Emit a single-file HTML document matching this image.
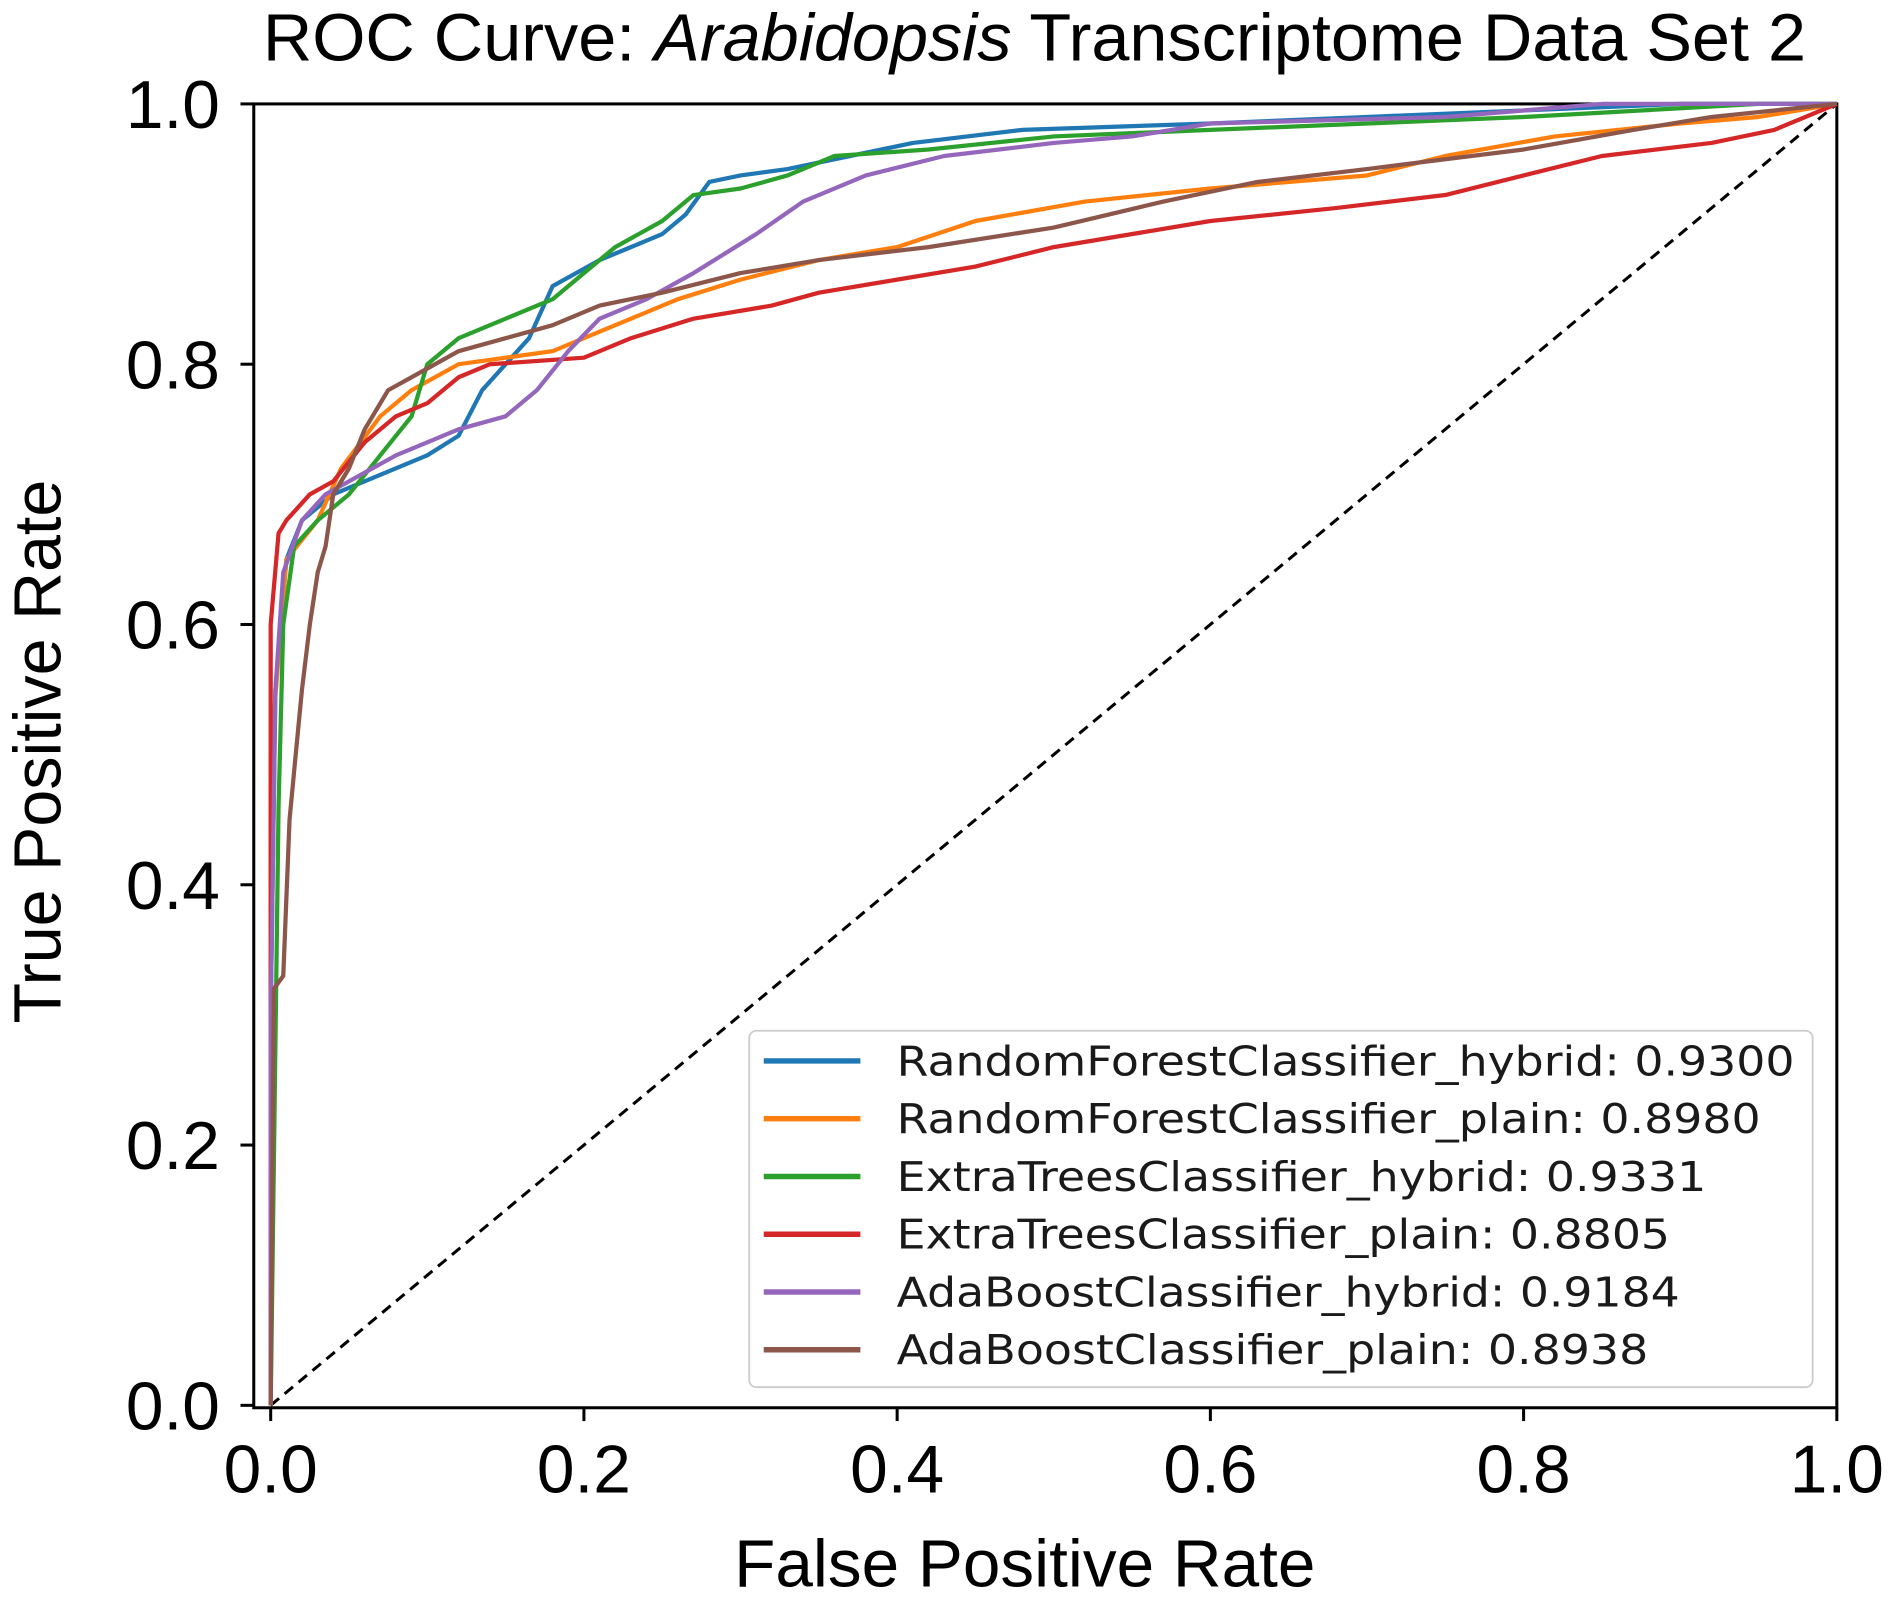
<!DOCTYPE html>
<html><head><meta charset="utf-8"><style>
html,body{margin:0;padding:0;background:#fff;}
svg{display:block;}
text{font-family:"Liberation Sans",Arial,sans-serif;fill:#000;}
.lg{font-family:"DejaVu Sans",sans-serif;font-size:34px;fill:#1a1a1a;}
</style></head><body>
<svg id="chart" width="1890" height="1604" viewBox="0 0 1564 1327.4" preserveAspectRatio="none" xmlns="http://www.w3.org/2000/svg">
<text x="856" y="50" font-size="55" text-anchor="middle" textLength="1277" lengthAdjust="spacingAndGlyphs">ROC Curve: <tspan font-style="italic">Arabidopsis</tspan> Transcriptome Data Set 2</text>
<rect x="210" y="86" width="1310" height="1079" fill="#fff" stroke="#000" stroke-width="2.5"/>
<g id="ticks"></g>
<line id="diag" stroke="#000" stroke-width="2.5" stroke-dasharray="9,6"/>
<g id="curves"></g>
<text x="848" y="1313" font-size="55" text-anchor="middle" textLength="481" lengthAdjust="spacingAndGlyphs">False Positive Rate</text>
<text transform="translate(50,622) rotate(-90)" font-size="55" text-anchor="middle" textLength="450" lengthAdjust="spacingAndGlyphs">True Positive Rate</text>
<g id="legend">
<rect x="620" y="853" width="880" height="295" rx="6" fill="#fff" fill-opacity="0.85" stroke="#ccc" stroke-width="1.5"/>
</g>
</svg>
<script>
const seriesNames=["RandomForestClassifier_hybrid","RandomForestClassifier_plain","ExtraTreesClassifier_hybrid","ExtraTreesClassifier_plain","AdaBoostClassifier_hybrid","AdaBoostClassifier_plain"];
const aucValues=["0.9300","0.8980","0.9331","0.8805","0.9184","0.8938"];
const colors=["#1f77b4","#ff7f0e","#2ca02c","#d62728","#9467bd","#8c564b"];
const xTicks=[0,0.2,0.4,0.6,0.8,1.0];
const yTicks=[0,0.2,0.4,0.6,0.8,1.0];
const rfHybridFpr=[0,0,0.003,0.01,0.02,0.04,0.07,0.1,0.12,0.135,0.15,0.165,0.18,0.21,0.23,0.25,0.265,0.28,0.30,0.33,0.37,0.41,0.48,0.6,0.7,0.8,0.9,1];
const rfHybridTpr=[0,0.3,0.55,0.65,0.68,0.70,0.715,0.73,0.745,0.78,0.80,0.82,0.86,0.88,0.89,0.90,0.915,0.94,0.945,0.95,0.96,0.97,0.98,0.985,0.99,0.995,1,1];
const rfPlainFpr=[0,0,0.01,0.03,0.045,0.07,0.09,0.12,0.18,0.22,0.26,0.3,0.35,0.4,0.45,0.52,0.6,0.7,0.75,0.82,0.9,0.95,1];
const rfPlainTpr=[0,0.5,0.65,0.68,0.72,0.76,0.78,0.80,0.81,0.83,0.85,0.865,0.88,0.89,0.91,0.925,0.935,0.945,0.96,0.975,0.985,0.99,1];
const etHybridFpr=[0,0.005,0.008,0.015,0.03,0.05,0.07,0.09,0.1,0.12,0.15,0.18,0.2,0.22,0.25,0.27,0.30,0.33,0.36,0.42,0.5,0.6,0.7,0.8,0.95,1];
const etHybridTpr=[0,0.46,0.6,0.66,0.68,0.70,0.73,0.76,0.80,0.82,0.835,0.85,0.87,0.89,0.91,0.93,0.935,0.945,0.96,0.965,0.975,0.98,0.985,0.99,1,1];
const etPlainFpr=[0,0,0.005,0.01,0.025,0.04,0.06,0.08,0.1,0.12,0.14,0.2,0.23,0.27,0.32,0.35,0.4,0.45,0.5,0.6,0.68,0.75,0.8,0.85,0.92,0.96,1];
const etPlainTpr=[0,0.6,0.67,0.68,0.70,0.71,0.74,0.76,0.77,0.79,0.80,0.805,0.82,0.835,0.845,0.855,0.865,0.875,0.89,0.91,0.92,0.93,0.945,0.96,0.97,0.98,1];
const adaHybridFpr=[0,0,0.003,0.008,0.02,0.035,0.05,0.08,0.12,0.15,0.17,0.19,0.21,0.24,0.27,0.31,0.34,0.38,0.43,0.5,0.55,0.6,0.75,0.85,1];
const adaHybridTpr=[0,0.3,0.55,0.64,0.68,0.70,0.71,0.73,0.75,0.76,0.78,0.81,0.835,0.85,0.87,0.90,0.925,0.945,0.96,0.97,0.975,0.985,0.99,1,1];
const adaPlainFpr=[0,0.002,0.008,0.012,0.016,0.02,0.025,0.03,0.035,0.04,0.05,0.06,0.075,0.09,0.12,0.15,0.18,0.21,0.25,0.3,0.35,0.42,0.5,0.57,0.63,0.7,0.8,0.87,0.92,1];
const adaPlainTpr=[0,0.32,0.33,0.45,0.5,0.55,0.6,0.64,0.66,0.70,0.72,0.75,0.78,0.79,0.81,0.82,0.83,0.845,0.855,0.87,0.88,0.89,0.905,0.925,0.94,0.95,0.965,0.98,0.99,1];
const fprs=[rfHybridFpr,rfPlainFpr,etHybridFpr,etPlainFpr,adaHybridFpr,adaPlainFpr];
const tprs=[rfHybridTpr,rfPlainTpr,etHybridTpr,etPlainTpr,adaHybridTpr,adaPlainTpr];

const NS="http://www.w3.org/2000/svg";
function sx(v){return 224+v*1296;}
function sy(v){return 1163-v*1077;}
function mk(tag,attrs,parent){const e=document.createElementNS(NS,tag);for(const k in attrs)e.setAttribute(k,attrs[k]);parent.appendChild(e);return e;}

const tg=document.getElementById('ticks');
xTicks.forEach(v=>{
  const l=mk('line',{x1:sx(v),x2:sx(v),y1:1165,y2:1176,stroke:'#000','stroke-width':2.5},tg);
  
  
  const t=mk('text',{x:sx(v),y:1235,'font-size':56,'text-anchor':'middle'},tg);
  
  
  t.textContent=v.toFixed(1);
});
yTicks.forEach(v=>{
  const l=mk('line',{x1:199,x2:210,y1:sy(v),y2:sy(v),stroke:'#000','stroke-width':2.5},tg);
  
  
  const t=mk('text',{x:182,y:sy(v)+20,'font-size':56,'text-anchor':'end'},tg);
  
  
  t.textContent=v.toFixed(1);
});
const d=document.getElementById('diag');
d.setAttribute('x1',sx(0));d.setAttribute('y1',sy(0));d.setAttribute('x2',sx(1));d.setAttribute('y2',sy(1));

const cg=document.getElementById('curves');
fprs.forEach((xs,i)=>{
  const pts=xs.map((x,j)=>sx(x).toFixed(1)+','+sy(tprs[i][j]).toFixed(1)).join(' ');
  const p=mk('polyline',{points:pts,fill:'none',stroke:colors[i],'stroke-width':3.5,'stroke-linejoin':'round'},cg);
  
  
});
const lg=document.getElementById('legend');
const lens=[743,715,670,640,648,622];
seriesNames.forEach((n,i)=>{
  const y=878+i*47.8;
  const l=mk('line',{x1:632,x2:712,y1:y,y2:y,stroke:colors[i],'stroke-width':4.5},lg);
  
  
  const t=mk('text',{x:742,y:y+12,class:'lg',textLength:lens[i],lengthAdjust:'spacingAndGlyphs'},lg);
  
  
  t.textContent=n+': '+aucValues[i];
});
</script>
</body></html>
